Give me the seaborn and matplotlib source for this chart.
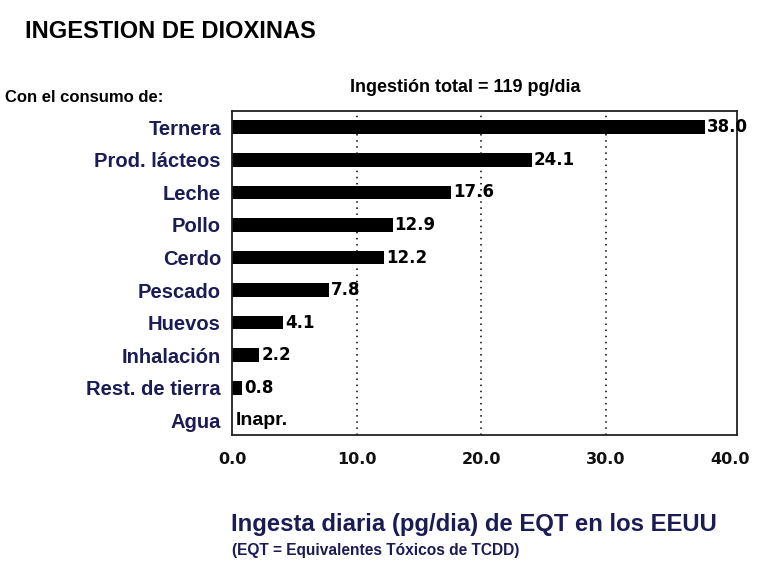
import matplotlib
matplotlib.use("Agg")
import matplotlib.pyplot as plt
import seaborn as sns
import pandas as pd

categories = ["Ternera", "Prod. lácteos", "Leche", "Pollo", "Cerdo",
              "Pescado", "Huevos", "Inhalación", "Rest. de tierra", "Agua"]
values = [38.0, 24.1, 17.6, 12.9, 12.2, 7.8, 4.1, 2.2, 0.8, 0.0]
value_labels = ["38.0", "24.1", "17.6", "12.9", "12.2", "7.8", "4.1", "2.2", "0.8", "Inapr."]
xticks = [0, 10, 20, 30, 40]
xtick_labels = ["0.0", "10.0", "20.0", "30.0", "40.0"]

sns.set_theme(style="white")
plt.rcParams['font.family'] = ['Liberation Sans', 'DejaVu Sans']

navy = "#1b1b55"
df = pd.DataFrame({"cat": categories, "val": values})

fig = plt.figure(figsize=(7.68, 5.8), dpi=100)
ax = fig.add_axes([232/768, 1-435/580, (737-232)/768, (435-111)/580])

sns.barplot(data=df, y="cat", x="val", orient="h", color="black",
            width=0.42, ax=ax, saturation=1, edgecolor="black", linewidth=0)

for x in [10, 20, 30]:
    ax.axvline(x, color="black", linewidth=1.1, linestyle=(0, (1, 3)), zorder=0)

for i, (v, lab) in enumerate(zip(values, value_labels)):
    if lab == "Inapr.":
        ax.text(v + 0.3, i, lab, va="center", ha="left", fontsize=14,
                fontweight="bold", color="black", clip_on=False)
    else:
        ax.text(v + 0.15, i, lab, va="center", ha="left", fontsize=12,
                fontweight="bold", color="black", clip_on=False,
                family=["DejaVu Sans"])

ax.set_xlim(0, 40.55)
ax.set_ylim(9.45, -0.5)
ax.set_xticks(xticks)
ax.set_xticklabels(xtick_labels, fontsize=11.5, fontweight="bold",
                   color="#111111", family=["DejaVu Sans"])
ax.set_yticks(range(len(categories)))
ax.set_yticklabels(categories, fontsize=14.5, fontweight="bold", color=navy)
ax.tick_params(axis="both", length=0)
ax.tick_params(axis="y", pad=8)
ax.tick_params(axis="x", pad=12)
ax.set_xlabel("")
ax.set_ylabel("")
for s in ax.spines.values():
    s.set_visible(True)
    s.set_color("#222222")
    s.set_linewidth(1.3)

fig.text(25/768, 1-31/580, "INGESTION DE DIOXINAS", fontsize=17,
         fontweight="bold", color="black", va="center", ha="left")
fig.text(5/768, 1-98/580, "Con el consumo de:", fontsize=12,
         fontweight="bold", color="black", va="center", ha="left")
fig.text(465/768, 1-88/580, "Ingestión total = 119 pg/dia", fontsize=13,
         fontweight="bold", color="black", va="center", ha="center")
fig.text(231/768, 1-525/580, "Ingesta diaria (pg/dia) de EQT en los EEUU",
         fontsize=17.2, fontweight="bold", color=navy, va="center", ha="left")
fig.text(232/768, 1-550/580, "(EQT = Equivalentes Tóxicos de TCDD)",
         fontsize=11.2, fontweight="bold", color=navy, va="center", ha="left")

fig.savefig("out.png", dpi=100, facecolor="white")
